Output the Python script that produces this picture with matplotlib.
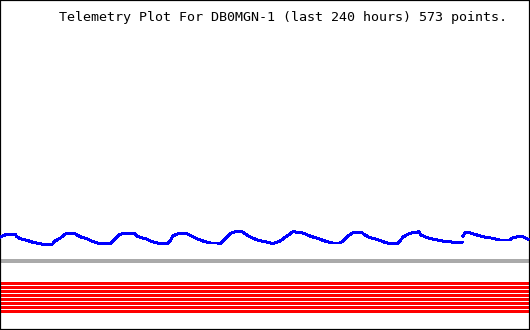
import numpy as np
import matplotlib
matplotlib.use("Agg")
import matplotlib.pyplot as plt

# telemetry trace (hours since start, level); None marks a gap in the data
hours = [0.0, 2.3, 3.2, 6.8, 7.7, 9.1, 12.2, 14.9, 18.1, 20.4, 23.5, 24.9, 27.2, 29.4,
         30.3, 34.0, 36.2, 39.4, 42.1, 45.3, 49.8, 52.1, 54.3, 55.7, 61.1, 62.5, 66.6,
         69.3, 72.5, 75.6, 77.0, 78.3, 80.6, 84.7, 86.0, 89.2, 91.9, 95.1, 98.3, 99.6,
         101.0, 104.2, 106.4, 109.6, 111.8, 114.1, 116.8, 120.9, 123.6, 126.8, 130.0,
         132.7, 137.2, 140.4, 144.9, 148.1, 150.8, 154.0, 155.3, 157.6, 159.8, 163.9,
         165.3, 167.5, 170.7, 173.4, 176.6, 179.8, 181.1, 182.5, 184.8, 186.6, 188.8,
         189.7, 190.6, 193.4, 197.9, 202.4, 209.2, 209.4, 209.7, 210.6, 212.8, 216.0,
         218.7, 223.2, 226.4, 230.9, 231.8, 233.7, 236.4, 237.7, 239.1]
level = [24, 26, 26.7, 26.7, 24.3, 22.3, 20.7, 18.7, 17.3, 16.3, 16.3, 20, 22.7, 26.7,
         27.3, 27.3, 24.3, 22.3, 19.3, 17.3, 17.3, 21.7, 26.7, 27.3, 27.3, 24.3, 21.7,
         19, 17.3, 17.3, 20, 25, 27.3, 27.3, 25.7, 22.3, 20, 18, 18, 17.3,
         20, 27.3, 29.3, 29.3, 26, 23.3, 20.7, 19, 17.3, 20, 25,
         29.3, 28, 25, 21.7, 19.3, 18, 18, 20, 25, 28.3, 28.3,
         26, 23.3, 21.7, 19.3, 17.3, 17.3, 20, 24, 26.7, 28.3, 28.3,
         29.7, 26, 23.3, 21, 19.3, 18.3, None, 25, 28.3, 28.3, 26,
         24.3, 22.7, 21, 21, 22.7, 24, 24.7, 23.3, 21.7]

# status bits, all set over the whole period
bit_levels = [-21.5, -25.5, -29.5, -33.5, -37.5, -41.5, -45.5, -49.5]
baseline = 0

title = "Telemetry Plot For DB0MGN-1 (last 240 hours) 573 points."

fig = plt.figure(figsize=(5.3, 3.3), dpi=100)
ax = fig.add_axes([0, 0, 1, 1])
ax.set_xlim(0, 240)
ax.set_ylim(-69, 261)

y = np.array([np.nan if v is None else v for v in level], dtype=float)
ax.plot(hours, y, color="#0000ff", lw=1.4, antialiased=False, zorder=3)

ax.axhline(baseline, color="#aaaaaa", lw=1.5, antialiased=False)
for b in bit_levels:
    ax.axhline(b, color="#ff0000", lw=1.9, antialiased=False)

ax.set_xticks([])
ax.set_yticks([])
for s in ax.spines.values():
    s.set_color("black")
    s.set_linewidth(1.6)

fig.text(283 / 530, 1 - 17 / 330, title, ha="center", va="center",
         family="DejaVu Sans Mono", fontsize=9.6, color="black")

fig.savefig("out.png", dpi=100)
